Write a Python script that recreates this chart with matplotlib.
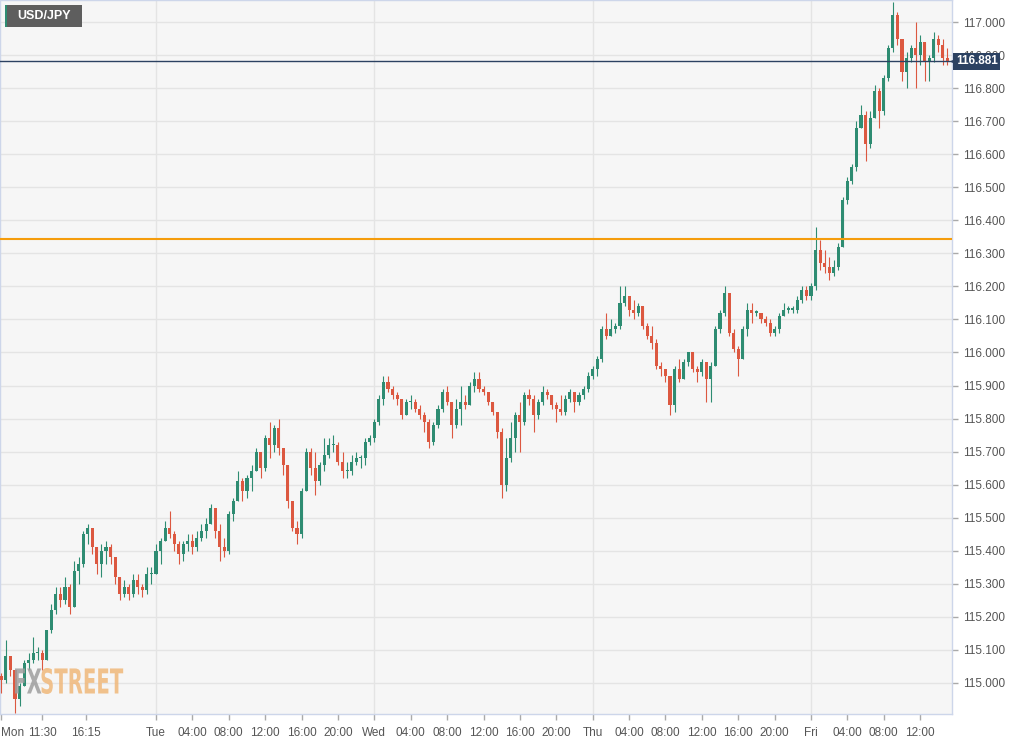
# USD/JPY, 30-min candles, Mon 07:00 .. Fri 15:00
import matplotlib
matplotlib.use("Agg")
import matplotlib.pyplot as plt
import numpy as np
from matplotlib.font_manager import FontProperties
from matplotlib.patches import PathPatch, Rectangle
from matplotlib.textpath import TextPath
from matplotlib.transforms import Affine2D, blended_transform_factory

W, H = 1023, 740

FIRST_OPEN = 115.02
CLOSES = [
    115.01, 115.08, 115.04, 114.95, 114.99, 115.06, 115.07, 115.09, 115.09, 115.07,
    115.16, 115.22, 115.27, 115.25, 115.29, 115.23, 115.34, 115.36, 115.45, 115.47,
    115.41, 115.36, 115.40, 115.41, 115.38, 115.32, 115.27, 115.29, 115.27, 115.31,
    115.29, 115.28, 115.33, 115.33, 115.40, 115.43, 115.47, 115.45, 115.42, 115.39,
    115.42, 115.43, 115.41, 115.44,
    115.46, 115.48, 115.53, 115.46, 115.41, 115.40, 115.51, 115.55, 115.61, 115.58,
    115.62, 115.64, 115.70, 115.65, 115.74, 115.72, 115.77, 115.71, 115.66, 115.55,
    115.47, 115.45, 115.58, 115.70, 115.65, 115.61, 115.66, 115.69, 115.72, 115.72,
    115.67, 115.64, 115.64, 115.67, 115.68, 115.68, 115.73, 115.74, 115.79, 115.86,
    115.91, 115.89, 115.87, 115.86, 115.81, 115.85, 115.85, 115.83, 115.81, 115.79,
    115.73, 115.78, 115.83, 115.88, 115.85, 115.78, 115.83, 115.85, 115.84, 115.90,
    115.92, 115.89, 115.88, 115.85, 115.82, 115.76, 115.60, 115.68, 115.74, 115.81,
    115.79, 115.87, 115.86, 115.81, 115.85, 115.88, 115.87, 115.84, 115.83, 115.82,
    115.86, 115.88, 115.85, 115.87, 115.89, 115.93, 115.95,
    115.98, 116.07, 116.05, 116.07, 116.08, 116.15, 116.17, 116.13, 116.12, 116.14,
    116.08, 116.05, 116.03, 115.96, 115.95, 115.93, 115.84, 115.95, 115.92, 115.97,
    116.00, 115.95, 115.94, 115.97, 115.92, 115.96, 116.07, 116.12, 116.18, 116.06,
    116.01, 115.98, 116.07, 116.13, 116.12, 116.12, 116.10, 116.09, 116.06, 116.07,
    116.11, 116.13, 116.13, 116.13, 116.16, 116.19, 116.17, 116.20, 116.31,
    116.27, 116.26, 116.24, 116.26, 116.32, 116.46, 116.52, 116.56, 116.68, 116.72,
    116.63, 116.71, 116.79, 116.73, 116.83, 116.92, 117.02, 116.95, 116.85, 116.89,
    116.92, 116.90, 116.94, 116.88, 116.89, 116.95, 116.93, 116.89, 116.881,
]
HIGHS = [
    115.03, 115.13, 115.07, 115.03, 115.00, 115.07, 115.09, 115.14, 115.11, 115.10,
    115.16, 115.24, 115.29, 115.29, 115.32, 115.30, 115.37, 115.38, 115.46, 115.48,
    115.46, 115.40, 115.42, 115.43, 115.42, 115.38, 115.31, 115.31, 115.30, 115.33,
    115.33, 115.30, 115.35, 115.35, 115.42, 115.44, 115.49, 115.52, 115.46, 115.43,
    115.43, 115.45, 115.45, 115.46,
    115.48, 115.50, 115.54, 115.53, 115.48, 115.44, 115.52, 115.56, 115.64, 115.62,
    115.63, 115.66, 115.71, 115.70, 115.75, 115.79, 115.78, 115.80, 115.71, 115.66,
    115.55, 115.49, 115.59, 115.71, 115.71, 115.70, 115.67, 115.74, 115.74, 115.75,
    115.73, 115.70, 115.67, 115.69, 115.70, 115.69, 115.74, 115.75, 115.80, 115.87,
    115.93, 115.93, 115.90, 115.88, 115.86, 115.86, 115.87, 115.86, 115.84, 115.82,
    115.80, 115.79, 115.84, 115.89, 115.90, 115.85, 115.86, 115.90, 115.87, 115.91,
    115.94, 115.94, 115.90, 115.88, 115.85, 115.82, 115.77, 115.74, 115.79, 115.82,
    115.85, 115.88, 115.89, 115.87, 115.86, 115.90, 115.89, 115.87, 115.85, 115.87,
    115.87, 115.89, 115.88, 115.88, 115.90, 115.94, 115.96,
    115.99, 116.08, 116.12, 116.10, 116.09, 116.20, 116.20, 116.17, 116.16, 116.15,
    116.14, 116.09, 116.08, 116.04, 115.97, 115.95, 115.92, 115.96, 115.98, 115.98,
    116.00, 116.00, 115.96, 115.98, 115.97, 115.97, 116.08, 116.13, 116.20, 116.18,
    116.07, 116.02, 116.08, 116.15, 116.15, 116.13, 116.12, 116.11, 116.10, 116.08,
    116.12, 116.15, 116.14, 116.14, 116.17, 116.20, 116.20, 116.21, 116.38,
    116.34, 116.31, 116.29, 116.28, 116.33, 116.47, 116.53, 116.57, 116.70, 116.75,
    116.73, 116.73, 116.81, 116.80, 116.84, 116.93, 117.06, 117.03, 116.95, 116.91,
    116.93, 117.00, 116.96, 116.94, 116.90, 116.97, 116.96, 116.95, 116.92,
]
LOWS = [
    114.97, 115.00, 115.02, 114.91, 114.93, 114.99, 115.04, 115.06, 115.07, 115.04,
    115.07, 115.15, 115.21, 115.23, 115.24, 115.21, 115.23, 115.30, 115.35, 115.42,
    115.39, 115.33, 115.32, 115.36, 115.36, 115.30, 115.25, 115.26, 115.25, 115.26,
    115.27, 115.26, 115.27, 115.30, 115.33, 115.36, 115.43, 115.44, 115.40, 115.36,
    115.37, 115.40, 115.39, 115.40,
    115.43, 115.44, 115.48, 115.44, 115.37, 115.38, 115.39, 115.49, 115.55, 115.55,
    115.56, 115.58, 115.64, 115.62, 115.64, 115.68, 115.70, 115.69, 115.63, 115.53,
    115.46, 115.42, 115.44, 115.58, 115.63, 115.57, 115.60, 115.64, 115.68, 115.70,
    115.66, 115.62, 115.62, 115.63, 115.66, 115.65, 115.66, 115.72, 115.73, 115.78,
    115.84, 115.88, 115.86, 115.84, 115.80, 115.81, 115.83, 115.82, 115.80, 115.76,
    115.71, 115.72, 115.77, 115.82, 115.84, 115.74, 115.77, 115.78, 115.83, 115.84,
    115.88, 115.88, 115.87, 115.84, 115.81, 115.74, 115.56, 115.58, 115.67, 115.70,
    115.70, 115.78, 115.84, 115.76, 115.80, 115.84, 115.86, 115.83, 115.79, 115.81,
    115.81, 115.85, 115.82, 115.84, 115.86, 115.88, 115.92,
    115.93, 115.97, 116.04, 116.05, 116.06, 116.07, 116.14, 116.11, 116.10, 116.11,
    116.07, 116.04, 116.01, 115.95, 115.93, 115.91, 115.81, 115.82, 115.91, 115.92,
    115.96, 115.94, 115.91, 115.93, 115.85, 115.85, 115.98, 116.06, 116.11, 116.05,
    116.00, 115.93, 115.98, 116.05, 116.09, 116.11, 116.09, 116.08, 116.05, 116.05,
    116.06, 116.11, 116.12, 116.12, 116.12, 116.15, 116.16, 116.16, 116.19,
    116.25, 116.24, 116.22, 116.23, 116.25, 116.32, 116.45, 116.51, 116.55, 116.68,
    116.58, 116.62, 116.71, 116.68, 116.72, 116.82, 116.91, 116.93, 116.82, 116.80,
    116.88, 116.80, 116.87, 116.82, 116.82, 116.88, 116.91, 116.87, 116.87,
]

START_HOUR = 7.0   # Mon 07:00, hours counted from Mon 00:00
STEP_HOURS = 0.5

LAST_PRICE = 116.881
LEVEL_PRICE = 116.343

X_TICKS = [7.0, 11.5, 16.25, 24, 28, 32, 36, 40, 44, 48, 52, 56, 60, 64, 68,
           72, 76, 80, 84, 88, 92, 96, 100, 104, 108]
X_LABELS = ["Mon", "11:30", "16:15", "Tue", "04:00", "08:00", "12:00", "16:00", "20:00",
            "Wed", "04:00", "08:00", "12:00", "16:00", "20:00",
            "Thu", "04:00", "08:00", "12:00", "16:00", "20:00",
            "Fri", "04:00", "08:00", "12:00"]
DAY_LINES = [24, 48, 72, 96]
Y_TICKS = [round(115.0 + 0.1 * k, 1) for k in range(21)]

GREEN = "#2e8c72"
RED = "#dc5840"
NAVY = "#2c4262"
ORANGE = "#f59c0c"
BORDER = "#cdd6ea"
TEXT = "#555555"


def fig_rect(x, y, w, h):
    # pixel box (top-left origin) -> figure fraction
    return (x / W, 1 - (y + h) / H, w / W, h / H)


def draw_candles(ax):
    closes = np.array(CLOSES)
    opens = np.r_[FIRST_OPEN, closes[:-1]]
    highs = np.maximum(np.array(HIGHS), np.maximum(opens, closes))
    lows = np.minimum(np.array(LOWS), np.minimum(opens, closes))
    hours = START_HOUR + STEP_HOURS * np.arange(len(closes))
    colors = np.where(closes >= opens, GREEN, RED)

    ax.vlines(hours, lows, highs, colors=colors, linewidth=0.8, zorder=3)
    bottoms = np.minimum(opens, closes)
    heights = np.maximum(np.abs(closes - opens), 0.004)
    ax.bar(hours, heights, bottom=bottoms, width=0.34, color=colors,
           linewidth=0, zorder=4)


def draw_watermark(fig):
    # FXSTREET logo, squeezed into its pixel box
    prop = FontProperties(family="DejaVu Sans", weight="bold")
    full = TextPath((0, 0), "FXSTREET", size=1, prop=prop)
    fx = TextPath((0, 0), "FX", size=1, prop=prop)
    street = TextPath((0, 0), "STREET", size=1, prop=prop)
    ext = full.get_extents()
    x0, x1, y_top, y_bot = 15, 125, 668, 694
    sx = (x1 - x0) / ext.width
    sy = (y_bot - y_top) / ext.height
    base = Affine2D().translate(-ext.x0, -ext.y0).scale(sx, sy).translate(x0, H - y_bot)
    shift = full.get_extents().width - street.get_extents().width - street.get_extents().x0
    fig.add_artist(PathPatch(fx, transform=base, facecolor="#9e9e9e",
                             edgecolor="none", alpha=0.85, zorder=10))
    fig.add_artist(PathPatch(street, transform=Affine2D().translate(shift, 0) + base,
                             facecolor="#f0b87a", edgecolor="none", alpha=0.85, zorder=10))


def main():
    plt.rcParams["font.family"] = ["Liberation Sans", "DejaVu Sans"]
    fig = plt.figure(figsize=(W / 100, H / 100), dpi=100)
    fig.patch.set_facecolor("white")

    ax = fig.add_axes(fig_rect(0, 0, 952, 714))
    ax.set_facecolor("#f6f6f6")
    ax.set_xlim(6.85, 111.5)
    ax.set_ylim(114.906, 117.0666)

    for s in ax.spines.values():
        s.set_color(BORDER)
        s.set_linewidth(1)

    ax.yaxis.tick_right()
    ax.set_yticks(Y_TICKS)
    ax.set_yticklabels([f"{v:.3f}" for v in Y_TICKS])
    ax.set_xticks(X_TICKS)
    ax.set_xticklabels(X_LABELS)
    ax.tick_params(axis="both", colors="#aaaaaa", labelcolor=TEXT, labelsize=8.5,
                   length=4, width=1)
    ax.tick_params(axis="y", pad=4)
    ax.tick_params(axis="x", pad=5)
    ax.get_xticklabels()[0].set_horizontalalignment("left")

    for y in Y_TICKS:
        ax.axhline(y, color="#e4e4e4", linewidth=1, zorder=1)
    for x in DAY_LINES:
        ax.axvline(x, color="#e4e4e4", linewidth=1, zorder=1)

    draw_candles(ax)

    ax.axhline(LEVEL_PRICE, color=ORANGE, linewidth=1.5, zorder=5)
    ax.axhline(LAST_PRICE, color=NAVY, linewidth=1, zorder=5)

    # current price tag on the right axis
    trans = blended_transform_factory(ax.transAxes, ax.transData)
    ax.text(1.0042, LAST_PRICE, f"{LAST_PRICE:.3f}", transform=trans, ha="left",
            va="center", color="white", fontsize=8.5, fontweight="bold", zorder=20,
            clip_on=False,
            bbox=dict(boxstyle="square,pad=0.22", facecolor=NAVY, edgecolor="none"))
    ax.plot([1.002], [LAST_PRICE], marker="<", markersize=4, color=NAVY,
            transform=trans, clip_on=False, zorder=20)

    # symbol label top-left
    fig.add_artist(Rectangle(fig_rect(5, 5, 77, 22)[:2], 77 / W, 22 / H,
                             transform=fig.transFigure, facecolor="#5e5e5e",
                             edgecolor="none", zorder=10))
    fig.add_artist(Rectangle(fig_rect(5, 5, 2, 22)[:2], 2 / W, 22 / H,
                             transform=fig.transFigure, facecolor=GREEN,
                             edgecolor="none", zorder=11))
    fig.text(17 / W, 1 - 16 / H, "USD/JPY", color="white", fontsize=9,
             fontweight="bold", va="center", ha="left", zorder=12)

    draw_watermark(fig)

    fig.savefig("out.png", dpi=100)
    plt.close(fig)


if __name__ == "__main__":
    main()
